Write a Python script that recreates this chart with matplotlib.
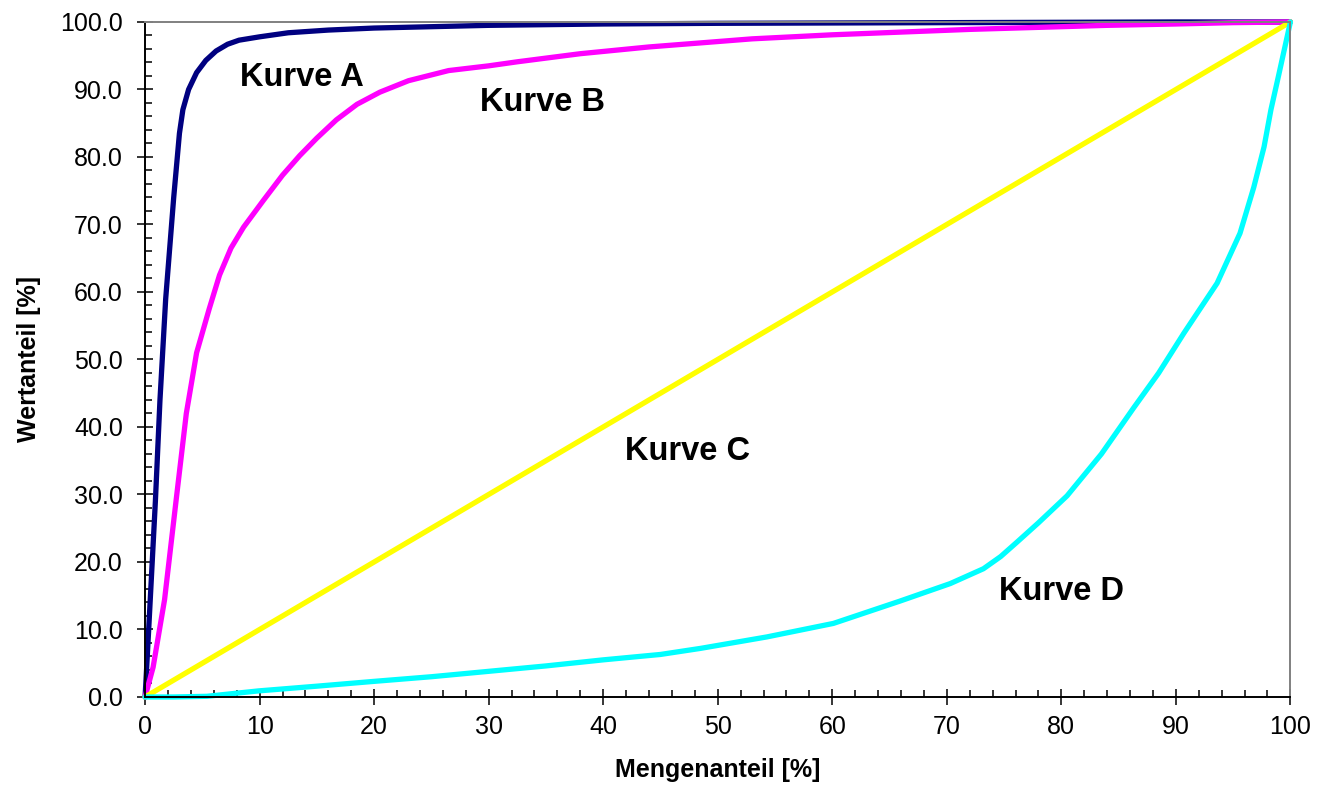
import matplotlib
matplotlib.use('Agg')
import matplotlib.pyplot as plt
from matplotlib.ticker import MultipleLocator, FormatStrFormatter

# Kurve A (dunkelblau)
a_x = [0, 0.3, 0.9, 1.3, 1.8, 2.5, 3.0, 3.3, 3.8, 4.5, 5.3, 6.2, 7.2, 8.2, 10, 12.5, 16, 20, 25, 30, 40, 50, 60, 70, 80, 90, 100]
a_y = [0, 9.5, 29, 44, 59, 74, 83.5, 87, 90, 92.5, 94.3, 95.7, 96.7, 97.3, 97.8, 98.4, 98.8, 99.1, 99.3, 99.5, 99.7, 99.8, 99.85, 99.9, 99.95, 100, 100]

# Kurve B (magenta)
b_x = [0, 0.7, 1.7, 2.7, 3.6, 4.5, 5.6, 6.5, 7.5, 8.6, 10.3, 12, 13.5, 15, 16.7, 18.5, 20.5, 23, 26.5, 30, 32.5,
       38, 44, 48.5, 53, 60, 66, 72, 78, 84, 90, 95, 100]
b_y = [0, 4.4, 14.4, 29, 42, 51, 57.5, 62.5, 66.5, 69.6, 73.5, 77.3, 80.2, 82.8, 85.5, 87.8, 89.6, 91.3, 92.8, 93.5, 94.1,
       95.3, 96.3, 96.9, 97.5, 98.1, 98.5, 98.9, 99.2, 99.5, 99.7, 99.9, 100]

# Kurve C (gelb)
c_x = [0, 100]
c_y = [0, 100]

# Kurve D (cyan)
d_x = [0, 2.5, 5.4, 9.9, 15, 19.9, 25, 30, 35, 40, 45, 48.5, 54.3, 60.1, 65.9, 70.3, 73.2, 74.7, 76.1, 78, 80.5,
       83.5, 86.3, 88.5, 90.7, 93.6, 95.6, 96.8, 97.7, 98.3, 99, 100]
d_y = [0, 0, 0.1, 0.9, 1.6, 2.3, 3.0, 3.8, 4.6, 5.5, 6.3, 7.2, 8.9, 10.9, 14.2, 16.8, 19.0, 20.8, 22.9, 25.8, 29.8,
       36, 42.8, 48.0, 53.9, 61.3, 68.7, 75.5, 81.5, 87, 92.3, 100]

namen = ['Kurve A', 'Kurve B', 'Kurve C', 'Kurve D']
farben = ['#000080', '#FF00FF', '#FFFF00', '#00FFFF']
label_pos = [(13.7, 91.7), (34.7, 88.0), (47.4, 36.4), (80.0, 15.6)]

plt.rcParams['font.family'] = ['Liberation Sans', 'DejaVu Sans']

fig = plt.figure(figsize=(13.31, 7.96), dpi=100)
ax = fig.add_axes([0.109, 0.1244, 0.8605, 0.848])

kurven = [(a_x, a_y), (b_x, b_y), (c_x, c_y), (d_x, d_y)]
for (xs, ys), farbe in zip(kurven, farben):
    ax.plot(xs, ys, color=farbe, lw=3.8, solid_joinstyle='round', solid_capstyle='round', clip_on=False)

for name, (tx, ty) in zip(namen, label_pos):
    ax.text(tx, ty, name, fontsize=23.5, fontweight='bold', ha='center', va='center')

ax.set_xlim(0, 100)
ax.set_ylim(0, 100)
ax.xaxis.set_major_locator(MultipleLocator(10))
ax.xaxis.set_minor_locator(MultipleLocator(2))
ax.yaxis.set_major_locator(MultipleLocator(10))
ax.yaxis.set_minor_locator(MultipleLocator(2))
ax.yaxis.set_major_formatter(FormatStrFormatter('%.1f'))

ax.tick_params(which='major', direction='inout', length=12, width=1.1, labelsize=18, color='black')
ax.tick_params(axis='x', which='major', pad=7)
ax.tick_params(axis='y', which='major', pad=10)
ax.tick_params(which='minor', direction='in', length=5, width=1.1, color='black')

for s in ['left', 'bottom']:
    ax.spines[s].set_color('black')
    ax.spines[s].set_linewidth(1.4)
for s in ['top', 'right']:
    ax.spines[s].set_color('#808080')
    ax.spines[s].set_linewidth(1.4)

ax.set_xlabel('Mengenanteil [%]', fontsize=18, fontweight='bold', labelpad=14)
ax.set_ylabel('Wertanteil [%]', fontsize=18, fontweight='bold', labelpad=14)

fig.savefig('out.png', dpi=100)
